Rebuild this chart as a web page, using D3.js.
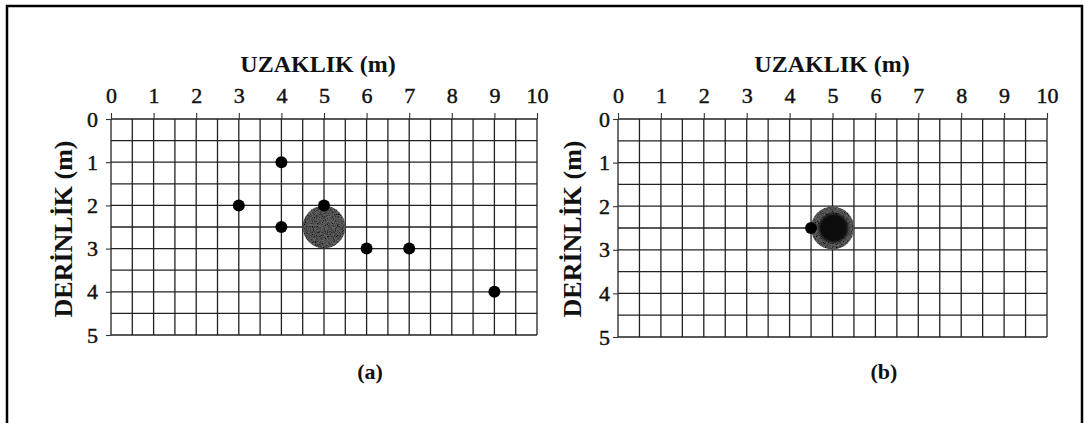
<!DOCTYPE html>
<html>
<head>
<meta charset="utf-8">
<script src="https://cdn.jsdelivr.net/npm/d3@7/dist/d3.min.js"></script>
<style>
  body { margin: 0; background: #fff; }
  svg { display: block; }
  text { font-family: "Liberation Serif", "Times New Roman", serif; fill: #111; }
</style>
</head>
<body>
<svg id="chart" width="1084" height="423"></svg>
<script>
// Axis ranges (metres)
const xDomain = [0, 10];
const yDomain = [0, 5];
const xTickValues = [0, 1, 2, 3, 4, 5, 6, 7, 8, 9, 10];
const yTickValues = [0, 1, 2, 3, 4, 5];
const gridStep = 0.5;

// Panel (a): measurement points
const pointsAx = [4, 3, 4, 5, 6, 7, 9];
const pointsAy = [1, 2, 2.5, 2, 3, 3, 4];
// Panel (b): measurement points
const pointsBx = [4.5];
const pointsBy = [2.5];

// Buried body (centre and radius, metres)
const bodyX = 5;
const bodyY = 2.5;
const bodyR = 0.5;
const coreR = 0.34;

const xTitle = "UZAKLIK (m)";
const yTitle = "DERİNLİK (m)";

const svg = d3.select("#chart");

// Grain texture for the body
const defs = svg.append("defs");
const f = defs.append("filter").attr("id", "grain").attr("x", "-10%").attr("y", "-10%").attr("width", "120%").attr("height", "120%");
f.append("feTurbulence").attr("type", "fractalNoise").attr("baseFrequency", 1.1).attr("numOctaves", 2).attr("seed", 3).attr("result", "noise");
f.append("feColorMatrix").attr("in", "noise").attr("type", "matrix")
  .attr("values", "0 0 0 0 0  0 0 0 0 0  0 0 0 0 0  2.4 0 0 0 -0.9").attr("result", "specks");
f.append("feComposite").attr("in", "specks").attr("in2", "SourceGraphic").attr("operator", "in").attr("result", "clipped");
const merge = f.append("feMerge");
merge.append("feMergeNode").attr("in", "SourceGraphic");
merge.append("feMergeNode").attr("in", "clipped");

// Soft edge for the dense core
const soft = defs.append("filter").attr("id", "soft");
soft.append("feGaussianBlur").attr("stdDeviation", 1.2);

// Outer frame
svg.append("rect")
  .attr("x", 7).attr("y", 6).attr("width", 1075).attr("height", 430)
  .attr("fill", "none").attr("stroke", "#000").attr("stroke-width", 2.5);

function panel(opts) {
  const x = d3.scaleLinear().domain(xDomain).range([opts.x0, opts.x1]);
  const y = d3.scaleLinear().domain(yDomain).range([opts.y0, opts.y1]);
  const g = svg.append("g");

  // Grid every half metre
  const gx = d3.range(xDomain[0], xDomain[1] + 0.001, gridStep);
  const gy = d3.range(yDomain[0], yDomain[1] + 0.001, gridStep);
  g.append("g").selectAll("line").data(gx).join("line")
    .attr("x1", d => x(d)).attr("x2", d => x(d))
    .attr("y1", y(yDomain[0])).attr("y2", y(yDomain[1]))
    .attr("stroke", "#222").attr("stroke-width", 1.3);
  g.append("g").selectAll("line").data(gy).join("line")
    .attr("y1", d => y(d)).attr("y2", d => y(d))
    .attr("x1", x(xDomain[0])).attr("x2", x(xDomain[1]))
    .attr("stroke", "#222").attr("stroke-width", 1.3);

  // Axes: distance across the top, depth down the left
  const ax = g.append("g").attr("transform", `translate(0,${y(0)})`)
    .call(d3.axisTop(x).tickValues(xTickValues).tickFormat(d3.format("d")).tickSize(6).tickPadding(10));
  const ay = g.append("g").attr("transform", `translate(${x(0)},0)`)
    .call(d3.axisLeft(y).tickValues(yTickValues).tickFormat(d3.format("d")).tickSize(5).tickPadding(opts.yPad));
  [ax, ay].forEach(a => {
    a.select(".domain").remove();
    a.selectAll(".tick line").attr("stroke", "#333").attr("stroke-width", 1.1);
    a.selectAll(".tick text").style("font-family", '"Liberation Serif", serif')
      .style("font-size", "22px").attr("fill", "#111")
      .attr("stroke", "#111").attr("stroke-width", 0.45);
  });

  // Axis titles
  g.append("text").attr("x", opts.titleX).attr("y", 72)
    .attr("text-anchor", "middle").style("font-size", "24px").style("font-weight", "bold")
    .text(xTitle);
  g.append("text")
    .attr("transform", `translate(${opts.yTitleX},229) rotate(-90)`)
    .attr("text-anchor", "middle").attr("dy", "0.35em")
    .style("font-size", "26px").style("font-weight", "bold")
    .text(yTitle);

  // Buried body
  const rPx = x(bodyR) - x(0);
  g.append("circle").attr("cx", x(bodyX)).attr("cy", y(bodyY)).attr("r", rPx)
    .attr("fill", "#626262").attr("filter", "url(#grain)");
  if (opts.core) {
    g.append("circle").attr("cx", x(bodyX) + 1).attr("cy", y(bodyY)).attr("r", x(coreR) - x(0))
      .attr("fill", "#080808").attr("filter", "url(#soft)");
  }

  // Points
  g.append("g").selectAll("circle").data(d3.range(opts.px.length)).join("circle")
    .attr("cx", i => x(opts.px[i])).attr("cy", i => y(opts.py[i])).attr("r", 6)
    .attr("fill", "#000");

  // Caption
  g.append("text").attr("x", opts.capX).attr("y", 379)
    .attr("text-anchor", "middle").style("font-size", "22px").style("font-weight", "bold")
    .text(opts.caption);
}

panel({ x0: 111, x1: 537, y0: 119, y1: 335, px: pointsAx, py: pointsAy,
        titleX: 318, yTitleX: 63, yPad: 8, capX: 370, caption: "(a)", core: false });
panel({ x0: 618, x1: 1047, y0: 119, y1: 337, px: pointsBx, py: pointsBy,
        titleX: 832, yTitleX: 572, yPad: 3, capX: 884, caption: "(b)", core: true });
</script>
</body>
</html>
